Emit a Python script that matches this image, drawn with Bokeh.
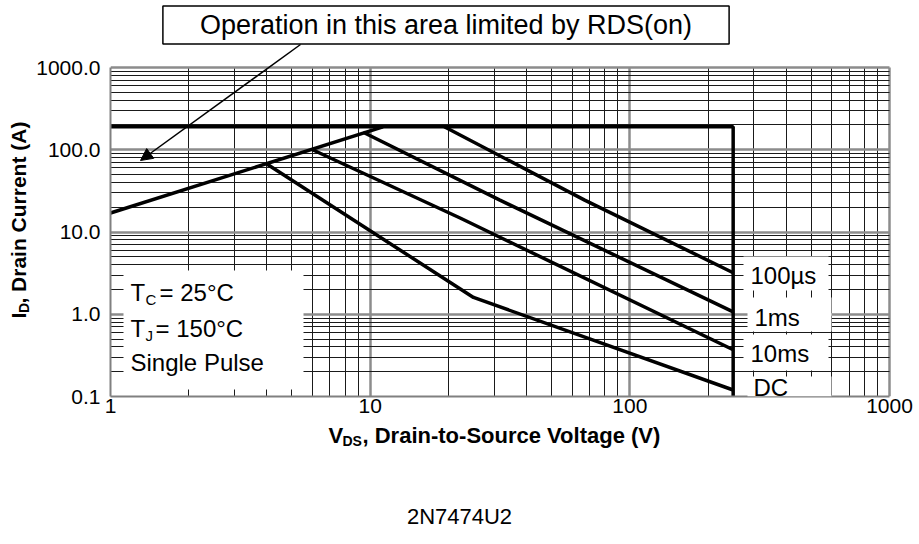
import math
from bokeh.plotting import figure
from bokeh.layouts import column, row
from bokeh.models import Label, Arrow, NormalHead, BoxAnnotation, FixedTicker, Range1d
from bokeh.embed import file_html
from bokeh.resources import INLINE

# ---------------- data ----------------
x_major = [1, 10, 100, 1000]
y_major = [0.1, 1, 10, 100, 1000]
y_tick_labels = ["0.1", "1.0", "10.0", "100.0", "1000.0"]
x_tick_labels = ["1", "10", "100", "1000"]

rds_v = [1, 11.2]
rds_i = [17, 190]

limit_v = [1, 250, 250]
limit_i = [190, 190, 0.1]

us100_v = [19.3, 67, 250]
us100_i = [190, 24.4, 3.2]

ms1_v = [9.4, 31.6, 250]
ms1_i = [163, 24.4, 1.07]

ms10_v = [6, 22.2, 250]
ms10_i = [100, 14.8, 0.37]

dc_v = [4, 25, 250]
dc_i = [67, 1.6, 0.12]

curve_names = ["100\u00b5s", "1ms", "10ms", "DC"]

x_minor = [m * 10 ** e for e in range(0, 3) for m in range(2, 10)]
y_minor = [m * 10 ** e for e in range(-1, 3) for m in range(2, 10)]

# ---------------- page geometry ----------------
W, H = 915, 540
LEFT_W = 32            # narrow strip holding the y title
MAIN_H = 422           # main canvas height
FL, FR, FT, FB = 110, 889, 67, 396   # chart box edges on the page
XD = (FR - FL) / 3.0
YD = (FB - FT) / 4.0


def dx(px):
    return 10 ** ((px - FL) / XD)


def dy(py):
    return 10 ** (3 - (py - FT) / YD)


FONT = "Liberation Sans"

# ---------------- main chart ----------------
p = figure(width=W - LEFT_W, height=MAIN_H, x_axis_type="log", y_axis_type="log",
           x_range=Range1d(1, dx(W)), y_range=Range1d(0.1, dy(0)),
           output_backend="svg", toolbar_location=None,
           min_border_left=FL - LEFT_W, min_border_right=0,
           min_border_top=0, min_border_bottom=MAIN_H - FB)
p.background_fill_color = "white"
p.border_fill_color = "white"
p.outline_line_color = None

p.xaxis.ticker = FixedTicker(ticks=x_major, minor_ticks=x_minor)
p.yaxis.ticker = FixedTicker(ticks=y_major, minor_ticks=y_minor)
p.xaxis.major_label_overrides = {v: s for v, s in zip(x_major, x_tick_labels)}
p.yaxis.major_label_overrides = {v: s for v, s in zip(y_major, y_tick_labels)}
p.xaxis.bounds = (x_major[0], x_major[-1])
p.yaxis.bounds = (y_major[0], y_major[-1])
for ax in (p.xaxis, p.yaxis):
    ax.axis_line_color = "#808080"
    ax.axis_line_width = 2
    ax.major_tick_line_color = None
    ax.minor_tick_line_color = None
    ax.major_tick_out = 0
    ax.minor_tick_out = 0
    ax.major_tick_in = 0
    ax.minor_tick_in = 0
    ax.major_label_text_font = FONT
    ax.major_label_text_font_size = "21px"
    ax.major_label_text_color = "black"
p.xaxis.major_label_standoff = 2
p.yaxis.major_label_standoff = 10

p.xgrid.bounds = (x_major[0], x_major[-1])
p.xgrid.cross_bounds = (y_major[0], y_major[-1])
p.ygrid.bounds = (y_major[0], y_major[-1])
p.ygrid.cross_bounds = (x_major[0], x_major[-1])
for g in (p.xgrid, p.ygrid):
    g.grid_line_color = "#8c8c8c"
    g.grid_line_width = 2.5
    g.minor_grid_line_color = "#1a1a1a"
    g.minor_grid_line_width = 1

LW = 3.5
for vv, ii in ((limit_v, limit_i), (rds_v, rds_i), (us100_v, us100_i),
               (ms1_v, ms1_i), (ms10_v, ms10_i), (dc_v, dc_i)):
    p.line(vv, ii, line_color="black", line_width=LW)


def wbox(l, r, t, b):
    p.add_layout(BoxAnnotation(left=dx(l), right=dx(r), top=dy(t), bottom=dy(b),
                               fill_color="white", fill_alpha=1.0, line_color=None))


wbox(123, 303, 270, 389)
wbox(743, 828, 256, 290)
wbox(747, 831, 297, 331)
wbox(743, 828, 334, 370)
wbox(747, 831, 376, 396)


def lab(fig, x, y, text, size, bold=False, align="left", angle=0):
    fig.add_layout(Label(x=x, y=y, text=text, text_font=FONT,
                         text_font_size=f"{size}px",
                         text_font_style="bold" if bold else "normal",
                         text_align=align, text_baseline="middle",
                         text_color="black", angle=angle))


# right-hand curve labels
lab(p, dx(750), dy(275), curve_names[0], 24)
lab(p, dx(754), dy(317), curve_names[1], 24)
lab(p, dx(750), dy(353), curve_names[2], 24)
lab(p, dx(753), dy(387), curve_names[3], 24)

# condition legend
lab(p, dx(130), dy(292), "T", 24)
lab(p, dx(145), dy(299), "C", 15)
lab(p, dx(159), dy(292), "= 25\u00b0C", 24)
lab(p, dx(130), dy(328), "T", 24)
lab(p, dx(145), dy(335), "J", 15)
lab(p, dx(155), dy(328), "= 150\u00b0C", 24)
lab(p, dx(130), dy(362), "Single Pulse", 24)

# top note with border and arrow
p.add_layout(Label(x=dx(445.5), y=dy(24.5), text="Operation in this area limited by RDS(on)",
                   text_font=FONT, text_font_size="27px", text_align="center",
                   text_baseline="middle", text_color="black",
                   background_fill_color="white", border_line_color="black",
                   border_line_width=1.5,
                   padding=dict(left=37, right=37, top=4, bottom=4)))
p.add_layout(Arrow(end=NormalHead(size=12, fill_color="black", line_color="black"),
                   x_start=dx(300), y_start=dy(44), x_end=dx(140), y_end=dy(160),
                   line_color="black", line_width=1.5))


# ---------------- helper strips (page-pixel coordinates) ----------------
def strip(w, h, x0, y0):
    f = figure(width=w, height=h, x_range=Range1d(x0, x0 + w), y_range=Range1d(y0 + h, y0),
               output_backend="svg", toolbar_location=None,
               min_border_left=0, min_border_right=0, min_border_top=0, min_border_bottom=0,
               x_axis_location=None, y_axis_location=None)
    f.grid.visible = False
    f.outline_line_color = None
    f.background_fill_color = "white"
    f.border_fill_color = "white"
    return f


left = strip(LEFT_W, MAIN_H, 0, 0)
A = math.pi / 2
lab(left, 18, 339, "I", 21, bold=True, angle=A)
lab(left, 23, 333, "D", 14, bold=True, angle=A)
lab(left, 18, 323, ", Drain Current (A)", 21, bold=True, angle=A)

bottom = strip(W, H - MAIN_H, 0, MAIN_H)
lab(bottom, 328, 435, "V", 22, bold=True)
lab(bottom, 342, 440, "DS", 14, bold=True)
lab(bottom, 362, 435, ", Drain-to-Source Voltage (V)", 22, bold=True)
lab(bottom, 459, 516, "2N7474U2", 22, align="center")

layout = column(row(left, p), bottom)
open("out.html", "w").write(file_html(layout, INLINE))
